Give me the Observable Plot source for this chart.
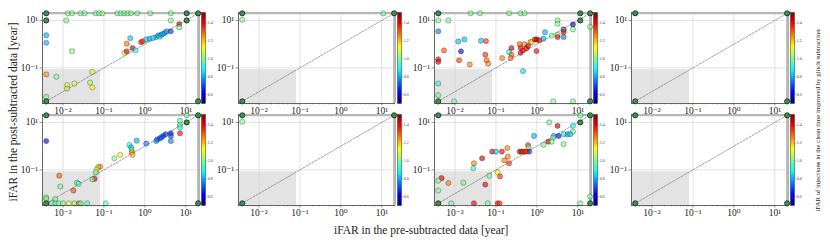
<!DOCTYPE html>
<html><head><meta charset="utf-8">
<script src="https://cdn.jsdelivr.net/npm/d3@7"></script>
<script src="https://cdn.jsdelivr.net/npm/@observablehq/plot@0.6"></script>
<style>
body{margin:0;background:#fff;}
#root{position:relative;width:830px;height:242px;overflow:hidden;font-family:"Liberation Serif","DejaVu Serif",serif;color:#222;}
.abs{position:absolute;}
.lbl{position:absolute;white-space:nowrap;transform-origin:center center;}
</style></head><body><div id="root"></div>
<script>
// ---- data (pre-subtracted iFAR, post-subtracted iFAR, ratio; ratio null = many stacked injections) ----
const F = 0.0039, C = 20;
const DOM = [0.00316, 21.6];
const CDOM = [0.5, 1.52];
const xTicks = [0.01, 0.1, 1, 10];
const xTickLabels = ["10⁻²", "10⁻¹", "10⁰", "10¹"];
const yTicks = [0.1, 10];
const yTickLabels = ["10⁻¹", "10¹"];
const cTicks = [0.6, 0.8, 1.0, 1.2, 1.4];
const SHADE = 1 / 12;

const inj1 = [
  [F,C,null],[10.5,C,null],[C,C,null],[F,10,null],[10.5,10,null],[F,F,null],[C,F,null],
  [0.013,C,1.0],[0.0166,C,1.02],[0.027,C,1.0],[0.034,C,0.98],[0.063,C,1.0],[0.076,C,1.0],[0.091,C,1.02],
  [0.215,C,1.0],[0.26,C,1.0],[0.316,C,0.98],[0.38,C,1.0],[0.46,C,1.0],[0.65,C,1.0],[1.35,C,1.0],[4.3,C,1.0],
  [0.012,10,1.0],[4.3,10,1.0],[6.9,7.0,1.45],[6.9,5.1,1.0],
  [F,2.4,0.8],[F,1.15,0.8],[0.0166,0.5,1.02],
  [0.44,1.8,0.82],[0.36,1.05,1.28],[0.32,0.43,1.1],[0.36,0.5,1.42],[0.5,0.69,1.45],[0.59,0.55,0.9],
  [0.81,1.23,1.42],[0.9,1.35,1.35],
  [1.08,1.59,0.85],[1.3,1.7,0.8],[1.58,1.82,0.85],[1.9,2.0,0.82],[2.1,2.34,0.8],[2.3,2.07,0.88],
  [2.5,2.5,0.78],[2.8,2.75,0.82],[3.1,3.0,0.8],[3.4,3.5,0.78],[4.3,3.5,0.68],
  [F,0.053,1.25],[0.0069,0.042,1.02],[0.0126,0.019,1.12],[0.0126,0.0135,1.05],[0.019,0.022,1.1],
  [0.052,0.068,1.1],[0.046,0.024,1.05],[0.052,0.015,1.12],[F,0.006,1.0]
];
const inj2 = [
  [F,C,null],[C,C,null],[F,F,null],[10.9,C,1.0],[F,10.7,1.0]
];
const inj3 = [
  [F,C,null],[11.5,C,null],[C,C,null],[11.5,10,null],[F,F,null],[C,F,null],
  [0.024,C,1.0],[0.041,C,1.0],[0.21,C,1.0],[0.40,C,1.0],[0.50,C,1.0],
  [F,10,1.0],[0.0069,10,1.0],[3.2,10,1.0],[3.2,7.2,1.0],[7.6,6.8,0.55],[7.6,4.2,1.0],
  [4.5,4.2,1.4],[4.5,4.0,0.85],[4.5,3.2,1.4],[2.3,2.3,1.0],[3.2,2.5,1.0],[3.2,2.0,1.4],[4.5,2.0,0.75],
  [1.58,3.2,0.8],[1.45,1.7,0.8],[C,5.4,1.0],
  [F,3.5,0.75],[0.012,1.3,0.82],[0.017,1.58,0.82],[0.043,1.4,0.82],[0.057,1.35,1.35],[0.0054,0.55,1.32],
  [0.014,0.5,0.6],[F,0.23,1.42],[F,0.18,1.42],[0.0126,0.21,1.35],[0.023,0.14,1.27],[0.055,0.36,1.35],
  [0.059,0.21,1.3],[0.065,0.15,1.27],[0.142,0.26,1.27],[0.21,0.47,0.9],[0.24,0.36,1.3],[0.23,0.26,1.28],
  [0.24,0.69,1.45],[0.38,1.0,1.3],[0.40,0.69,1.4],[0.40,0.43,1.45],[0.46,0.55,1.4],[0.50,1.0,1.27],
  [0.55,0.65,1.38],[0.61,0.83,1.45],[0.7,1.23,1.25],[0.76,1.23,1.15],[0.89,1.58,1.42],[1.0,1.58,1.47],
  [1.15,1.45,1.4],[0.98,0.51,1.4],[0.46,0.074,0.85],
  [F,0.022,0.92],[F,0.0071,1.0],[0.0095,F,1.0],[2.5,F,1.0],[7.6,F,1.0]
];
const inj4 = [
  [F,C,null],[C,C,null],[F,F,null],[C,F,null]
];
const inj5 = [
  [F,C,null],[C,C,null],[10.5,10,null],[F,F,null],[C,F,null],
  [10.5,C,1.0],[F,1.65,0.6],[7.2,11.7,0.95],[7.2,7.7,1.0],[7.2,6.2,0.9],[7.2,3.5,1.4],
  [4.3,3.5,0.62],[4.3,2.7,0.7],[4.3,1.65,0.75],[3.2,3.2,0.68],[2.8,2.7,0.68],[2.5,2.34,0.7],
  [2.3,2.1,0.72],[2.0,1.94,0.72],[1.9,1.65,0.75],[1.08,1.3,0.75],[0.63,1.7,0.8],[0.42,1.12,0.9],
  [0.46,0.89,0.82],[0.48,0.69,1.0],[0.48,0.55,1.25],[0.50,0.43,1.22],[0.25,0.43,1.1],[0.18,0.31,1.02],
  [0.081,0.138,1.25],[0.072,0.13,1.22],[0.066,0.1,1.1],[0.063,0.079,0.98],[0.059,0.042,1.42],
  [0.052,0.04,1.0],[0.022,0.029,0.98],[0.024,0.026,0.95],[0.0081,0.057,1.3],[0.0086,0.02,1.0],
  [0.018,0.0135,1.32],[0.0065,0.0059,1.0],[F,0.0069,1.0],[F,0.0059,1.0],
  [0.0054,F,1.0],[0.0065,F,0.95],[0.0078,F,1.0],[0.01,F,1.0],[0.0138,F,1.12],[0.019,F,1.0],
  [0.0245,F,1.28],[0.027,F,1.0],[0.039,F,0.95],[0.111,F,0.95]
];
const inj6 = [
  [F,C,null],[C,C,null],[F,F,null],[F,10.7,1.0]
];
const inj7 = [
  [F,C,null],[C,C,null],[11.5,10,null],[F,F,null],[C,F,null],
  [11.5,C,1.0],[2.0,10,1.0],[7.6,7.2,0.88],[7.6,4.1,1.0],[3.2,7.2,1.45],[4.6,3.2,0.9],[5.6,3.2,0.8],
  [6.5,3.2,0.82],[3.4,2.7,0.62],[2.6,2.7,0.8],[2.5,2.3,1.0],[1.9,1.55,1.45],[2.3,1.55,1.0],
  [4.5,1.23,1.0],[1.45,1.15,1.0],[0.85,2.7,0.8],[0.61,1.12,1.35],[0.63,0.89,1.0],[0.65,0.59,0.65],
  [0.38,0.59,1.42],[0.42,0.59,1.45],[0.46,0.59,1.3],[0.50,0.59,1.35],[0.55,0.59,1.38],
  [0.081,0.59,1.42],[0.1,0.59,0.82],[0.14,0.59,1.42],[0.19,0.83,1.27],[0.195,0.36,1.27],
  [0.16,0.25,1.27],[0.21,0.19,1.35],[0.046,0.31,1.45],[0.029,0.19,1.27],[0.028,0.117,0.92],
  [0.11,0.079,1.15],[0.069,0.057,1.0],[0.126,0.053,1.35],[0.0047,0.045,1.42],[F,0.035,1.0],
  [0.0069,0.028,1.27],[0.016,0.029,1.0],[0.055,0.024,1.42],[F,0.0135,1.0],
  [0.0081,F,1.0],[0.029,F,1.42],[0.063,F,1.0],[0.11,F,1.42],[0.123,F,1.35],[11.5,F,1.0],[C,0.0076,1.0]
];
const inj8 = [
  [F,C,null],[C,C,null],[F,F,null],[C,F,null]
];
const panels = [inj1, inj2, inj3, inj4, inj5, inj6, inj7, inj8];

// ---- layout ----
const colLeft = [42, 238, 434, 631];
const rowTop = [12, 114];
const FW = 157, FH = 91;
const ML = 32, MR = 3, MT = 3, MB = 15;

function jet(t) {
  const c = v => Math.max(0, Math.min(1, v));
  const r = c(1.5 - Math.abs(4 * t - 3)), g = c(1.5 - Math.abs(4 * t - 2)), b = c(1.5 - Math.abs(4 * t - 1));
  return `rgb(${Math.round(r * 255)},${Math.round(g * 255)},${Math.round(b * 255)})`;
}
const colorScale = {type: "linear", domain: CDOM, interpolate: jet};
const xFmt = d => xTickLabels[xTicks.indexOf(d)] ?? "";
const yFmt = d => yTickLabels[yTicks.indexOf(d)] ?? "";
const minorTicks = d3.scaleLog().domain(DOM).ticks().filter(t => !xTicks.includes(t));

const root = document.getElementById("root");

panels.forEach((data, i) => {
  const col = i % 4, row = Math.floor(i / 4);
  const colored = data.filter(d => d[2] != null);
  const stacked = data.filter(d => d[2] == null);
  const chart = Plot.plot({
    width: FW + ML + MR, height: FH + MT + MB,
    marginLeft: ML, marginRight: MR, marginTop: MT, marginBottom: MB,
    x: {type: "log", domain: DOM, axis: null},
    y: {type: "log", domain: DOM, axis: null},
    color: colorScale,
    style: {fontFamily: "'Liberation Serif','DejaVu Serif',serif", fontSize: "9.5px", background: "transparent", color: "#222", overflow: "visible"},
    marks: [
      Plot.rect([0], {x1: () => DOM[0], x2: () => SHADE, y1: () => DOM[0], y2: () => SHADE, fill: "#e3e3e3"}),
      Plot.ruleX(xTicks, {stroke: "#d4d4d4", strokeWidth: 0.7}),
      Plot.ruleY(yTicks, {stroke: "#d4d4d4", strokeWidth: 0.7}),
      Plot.ruleY([DOM[1]], {stroke: "#b0b0b0", strokeWidth: 1}),
      Plot.ruleX([DOM[1]], {stroke: "#b0b0b0", strokeWidth: 1}),
      Plot.ruleY([C], {stroke: "#b8b8b8", strokeWidth: 2}),
      Plot.ruleX([C], {stroke: "#b8b8b8", strokeWidth: 2}),
      Plot.line(DOM, {x: d => d, y: d => d, stroke: "#777", strokeWidth: 0.7, strokeDasharray: "2,1.4"}),
      Plot.dot(colored, {x: d => d[0], y: d => d[1], fill: d => d[2], r: 2.6, fillOpacity: 0.62, stroke: "#000", strokeOpacity: 0.55, strokeWidth: 0.5}),
      Plot.dot(stacked, {x: d => d[0], y: d => d[1], fill: "#2f8f46", r: 2.6, fillOpacity: 0.95, stroke: "#000", strokeOpacity: 0.9, strokeWidth: 0.7}),
      Plot.ruleX([DOM[0]], {stroke: "#444", strokeWidth: 0.8}),
      Plot.ruleY([DOM[0]], {stroke: "#444", strokeWidth: 0.8}),
      Plot.axisX(minorTicks, {tickSize: 1.4, tickFormat: () => "", stroke: "#444", strokeWidth: 0.5}),
      Plot.axisX(xTicks, {tickSize: 2.5, tickPadding: 1.5, tickFormat: xFmt, stroke: "#444", strokeWidth: 0.6}),
      Plot.axisY(yTicks, {tickSize: 2.5, tickPadding: 2, tickFormat: yFmt, stroke: "#444", strokeWidth: 0.6})
    ]
  });
  chart.classList.add("abs");
  chart.style.left = (colLeft[col] - ML) + "px";
  chart.style.top = (rowTop[row] - MT) + "px";
  root.appendChild(chart);

  // colour bar
  const CBW = 4, CBMR = 14;
  const bar = Plot.plot({
    width: CBW + CBMR, height: FH + MT + MB,
    marginLeft: 0, marginRight: CBMR, marginTop: MT, marginBottom: MB,
    x: {domain: [0, 1], axis: null},
    y: {domain: CDOM, axis: null},
    color: colorScale,
    style: {fontFamily: "'Liberation Serif','DejaVu Serif',serif", fontSize: "4px", background: "transparent", color: "#333", overflow: "visible"},
    marks: [
      Plot.raster({fill: (x, y) => y, x1: 0, x2: 1, y1: CDOM[0], y2: CDOM[1], pixelSize: 0.5, imageRendering: "auto"}),
      Plot.frame({stroke: "#333", strokeWidth: 0.5}),
      Plot.axisY(cTicks, {anchor: "right", tickSize: 1.2, tickPadding: 1, tickFormat: d3.format(".1f"), stroke: "#333", strokeWidth: 0.4})
    ]
  });
  bar.classList.add("abs");
  bar.style.left = (colLeft[col] + FW + 2) + "px";
  bar.style.top = (rowTop[row] - MT) + "px";
  root.appendChild(bar);
});

// ---- axis titles ----
function addLabel(text, cx, cy, size, rot) {
  const el = document.createElement("div");
  el.className = "lbl";
  el.textContent = text;
  el.style.fontSize = size + "px";
  root.appendChild(el);
  const w = el.offsetWidth, h = el.offsetHeight;
  el.style.left = (cx - w / 2) + "px";
  el.style.top = (cy - h / 2) + "px";
  if (rot) el.style.transform = `rotate(${rot}deg)`;
}
addLabel("iFAR in the pre-subtracted data [year]", 421, 230, 11.5, 0);
addLabel("iFAR in the post-subtracted data [year]", 13, 112, 11.5, -90);
addLabel("iFAR of injections in the clean time improved by glitch subtraction", 817, 120, 6.8, -90);
</script></body></html>
